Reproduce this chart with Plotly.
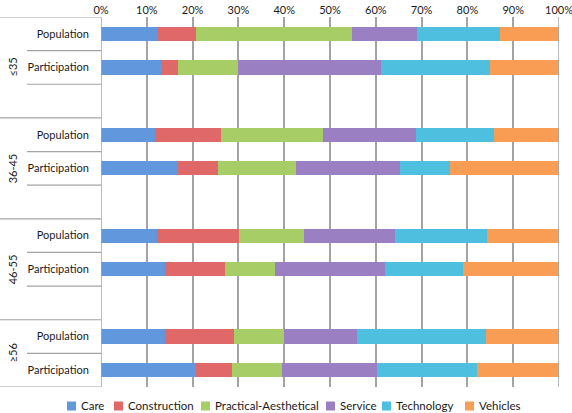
import plotly.graph_objects as go

groups = ["≤35", "36-45", "46-55", "≥56"]
rows = ["Population", "Participation"]
series = ["Care", "Construction", "Practical-Aesthetical", "Service", "Technology", "Vehicles"]
colors = ["#6197dc", "#e06868", "#a6cd66", "#9a80c2", "#4fbfe0", "#f99d55"]

# values per series, order: (≤35 Pop, ≤35 Part, 36-45 Pop, 36-45 Part, 46-55 Pop, 46-55 Part, ≥56 Pop, ≥56 Part)
care = [12.4, 13.0, 11.8, 16.8, 12.3, 14.0, 14.0, 20.7]
construction = [8.4, 3.9, 14.5, 8.8, 17.9, 13.0, 15.1, 7.9]
practical = [33.9, 13.0, 22.2, 17.0, 14.1, 11.0, 10.9, 10.9]
service = [14.3, 31.2, 20.3, 22.7, 19.9, 23.9, 15.8, 20.8]
technology = [18.1, 23.9, 17.1, 10.9, 20.0, 17.1, 28.2, 21.9]
vehicles = [12.9, 15.0, 14.1, 23.8, 15.8, 21.0, 16.0, 17.8]
values = [care, construction, practical, service, technology, vehicles]

# row positions: each group has Population, Participation, and a spacer row
ypos = []
ylab = []
for g in range(len(groups)):
    for r in range(len(rows)):
        ypos.append(g * 3 + r)
        ylab.append(rows[r])
nrows = 3 * len(groups) - 1

W, H = 572, 413
ML, MR, MT, MB = 101, 13, 17, 26
PW, PH = W - ML - MR, H - MT - MB


def px_x(px):
    return (px - ML) / PW


def px_y(py):
    return (H - MB - py) / PH


fig = go.Figure()
for name, col, vals in zip(series, colors, values):
    fig.add_trace(go.Bar(
        y=ypos, x=vals, name=name, orientation="h",
        marker=dict(color=col, line=dict(width=0)),
        width=0.42, showlegend=False,
    ))

line_col = "#a3a3a3"
shapes = []
# group borders (full width of label area)
borders = [-0.5] + [3 * g + 2.5 for g in range(len(groups) - 1)] + [nrows - 0.5]
for b in borders:
    shapes.append(dict(type="line", xref="paper", yref="y", x0=px_x(0), x1=0, y0=b, y1=b,
                       line=dict(color=line_col, width=1.2)))
# sub separators
for g in range(len(groups)):
    subs = [3 * g + 0.5, 3 * g + 1.5] if g < len(groups) - 1 else [3 * g + 0.5]
    for s in subs:
        shapes.append(dict(type="line", xref="paper", yref="y", x0=px_x(27), x1=0, y0=s, y1=s,
                           line=dict(color=line_col, width=1.2)))
# edge lines at 0% and 100%
for xv in (0, 100):
    shapes.append(dict(type="line", xref="x", yref="paper", x0=xv, x1=xv, y0=0, y1=1,
                       line=dict(color=line_col, width=1.5)))

annotations = []
for g, name in enumerate(groups):
    top = 3 * g - 0.5
    bot = 3 * g + 2.5 if g < len(groups) - 1 else nrows - 0.5
    annotations.append(dict(x=px_x(12), xref="paper", y=(top + bot) / 2, yref="y",
                            text=name, textangle=-90, showarrow=False,
                            font=dict(size=11, color="#1a1a1a"),
                            xanchor="center", yanchor="middle"))

# legend drawn as squares + text
leg_sq_left = [67, 114, 201, 326, 382, 465]
leg_y = 406
for name, col, sx in zip(series, colors, leg_sq_left):
    shapes.append(dict(type="rect", xref="paper", yref="paper",
                       x0=px_x(sx), x1=px_x(sx + 9), y0=px_y(leg_y - 4.5), y1=px_y(leg_y + 4.5),
                       fillcolor=col, line=dict(width=0)))
    annotations.append(dict(x=px_x(sx + 12), xref="paper", y=px_y(leg_y), yref="paper",
                            text=name, showarrow=False, xanchor="left", yanchor="middle",
                            font=dict(size=11.5, color="#1a1a1a")))

fig.update_layout(
    width=W, height=H,
    margin=dict(l=ML, r=MR, t=MT, b=MB, pad=0, autoexpand=False),
    barmode="stack",
    bargap=0,
    paper_bgcolor="white", plot_bgcolor="white",
    font=dict(family="Lato, Calibri, sans-serif", size=11, color="#1a1a1a"),
    shapes=shapes, annotations=annotations,
    showlegend=False,
)
fig.update_xaxes(
    side="top", range=[0, 100], tickvals=list(range(0, 101, 10)),
    ticktext=[f"{v}%" for v in range(0, 101, 10)],
    showgrid=True, gridcolor="#a3a3a3", gridwidth=1.5,
    zeroline=False, showline=False, ticks="", fixedrange=True, automargin=False,
    ticklabeloverflow="allow",
)
fig.update_yaxes(
    range=[nrows - 0.5, -0.5], tickvals=ypos, ticktext=ylab,
    showgrid=False, zeroline=False, showline=False,
    ticks="outside", ticklen=9, tickcolor="rgba(0,0,0,0)", automargin=False,
)

fig.write_html("out.html", config={"displayModeBar": False},
               post_script="document.body.style.margin='0';")
